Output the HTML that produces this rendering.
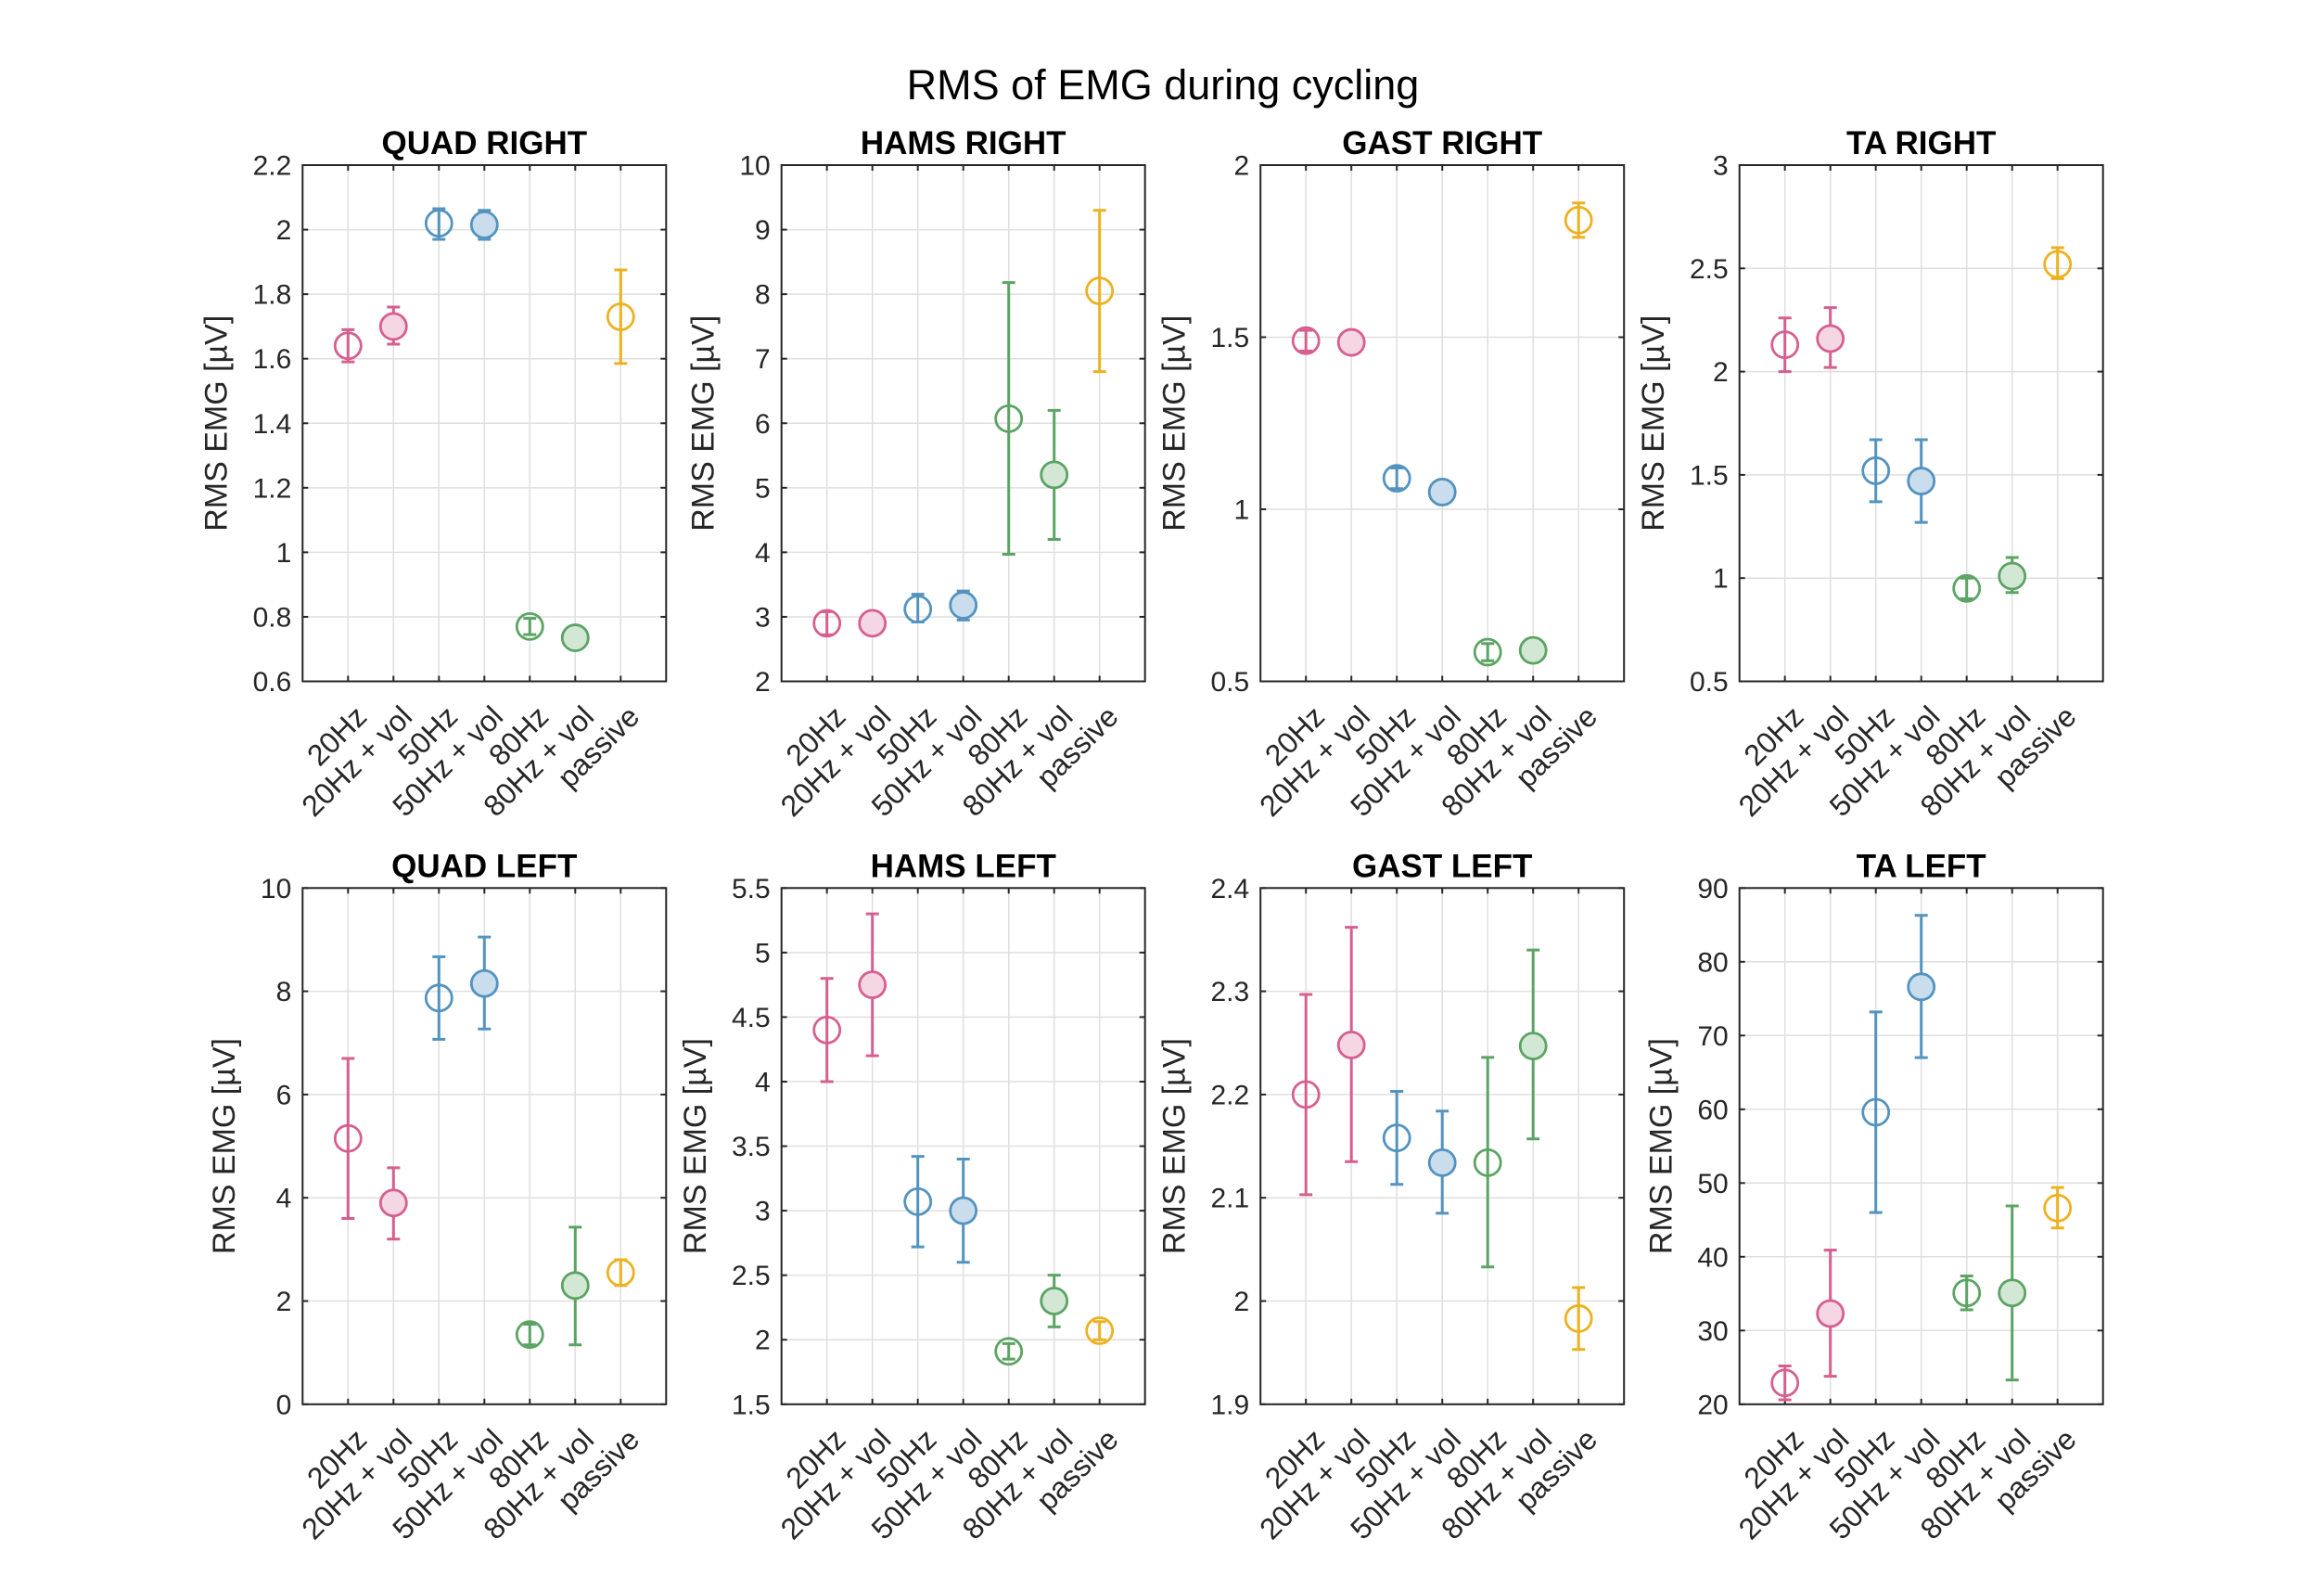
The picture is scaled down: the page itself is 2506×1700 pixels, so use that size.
<!DOCTYPE html>
<html><head><meta charset="utf-8"><style>
html,body{margin:0;padding:0;background:#fff;}
svg{display:block;font-family:"Liberation Sans",Arial,sans-serif;}
</style></head><body>
<svg id="fig" width="2506" height="1700" viewBox="0 0 2506 1700" xmlns="http://www.w3.org/2000/svg">
<rect width="2506" height="1700" fill="#fff"/>
<text x="1254" y="107" font-size="45" text-anchor="middle" fill="#000">RMS of EMG during cycling</text>
</svg>
<script>
const categories = ["20Hz","20Hz + vol","50Hz","50Hz + vol","80Hz","80Hz + vol","passive"];
const filledFlags = [false,true,false,true,false,true,false];
const groupColor = [0,0,1,1,2,2,3];

const quadRightMean = [1.64,1.70,2.02,2.015,0.77,0.735,1.73];
const quadRightLo   = [1.59,1.645,1.97,1.97,0.745,0.71,1.585];
const quadRightHi   = [1.69,1.76,2.065,2.06,0.795,0.76,1.875];
const quadRightTicks = [0.6,0.8,1,1.2,1.4,1.6,1.8,2,2.2];

const hamsRightMean = [2.9,2.9,3.12,3.18,6.07,5.2,8.05];
const hamsRightLo   = [2.72,2.77,2.92,2.95,3.97,4.2,6.8];
const hamsRightHi   = [3.08,3.03,3.35,3.4,8.18,6.2,9.3];
const hamsRightTicks = [2,3,4,5,6,7,8,9,10];

const gastRightMean = [1.49,1.485,1.09,1.05,0.585,0.59,1.84];
const gastRightLo   = [1.46,1.46,1.06,1.03,0.56,0.57,1.79];
const gastRightHi   = [1.52,1.51,1.12,1.07,0.61,0.61,1.89];
const gastRightTicks = [0.5,1,1.5,2];

const taRightMean = [2.13,2.16,1.52,1.47,0.95,1.01,2.52];
const taRightLo   = [2.0,2.02,1.37,1.27,0.9,0.93,2.45];
const taRightHi   = [2.26,2.31,1.67,1.67,1.0,1.1,2.6];
const taRightTicks = [0.5,1,1.5,2,2.5,3];

const quadLeftMean = [5.15,3.9,7.87,8.15,1.35,2.3,2.55];
const quadLeftLo   = [3.6,3.2,7.07,7.27,1.15,1.15,2.3];
const quadLeftHi   = [6.7,4.58,8.67,9.05,1.55,3.43,2.8];
const quadLeftTicks = [0,2,4,6,8,10];

const hamsLeftMean = [4.4,4.75,3.07,3.0,1.91,2.3,2.07];
const hamsLeftLo   = [4.0,4.2,2.72,2.6,1.85,2.1,2.0];
const hamsLeftHi   = [4.8,5.3,3.42,3.4,1.97,2.5,2.14];
const hamsLeftTicks = [1.5,2,2.5,3,3.5,4,4.5,5,5.5];

const gastLeftMean = [2.2,2.248,2.158,2.134,2.134,2.247,1.983];
const gastLeftLo   = [2.103,2.135,2.113,2.085,2.033,2.157,1.953];
const gastLeftHi   = [2.297,2.362,2.203,2.184,2.236,2.34,2.013];
const gastLeftTicks = [1.9,2,2.1,2.2,2.3,2.4];

const taLeftMean = [22.9,32.3,59.6,76.6,35.1,35.1,46.6];
const taLeftLo   = [20.6,23.8,46.0,67.0,32.8,23.3,43.9];
const taLeftHi   = [25.2,40.9,73.2,86.3,37.4,46.9,49.4];
const taLeftTicks = [20,30,40,50,60,70,80,90];

const panelTitles = ["QUAD RIGHT","HAMS RIGHT","GAST RIGHT","TA RIGHT","QUAD LEFT","HAMS LEFT","GAST LEFT","TA LEFT"];

const panels = [
 {m:quadRightMean,lo:quadRightLo,hi:quadRightHi,t:quadRightTicks},
 {m:hamsRightMean,lo:hamsRightLo,hi:hamsRightHi,t:hamsRightTicks},
 {m:gastRightMean,lo:gastRightLo,hi:gastRightHi,t:gastRightTicks},
 {m:taRightMean,lo:taRightLo,hi:taRightHi,t:taRightTicks},
 {m:quadLeftMean,lo:quadLeftLo,hi:quadLeftHi,t:quadLeftTicks},
 {m:hamsLeftMean,lo:hamsLeftLo,hi:hamsLeftHi,t:hamsLeftTicks},
 {m:gastLeftMean,lo:gastLeftLo,hi:gastLeftHi,t:gastLeftTicks},
 {m:taLeftMean,lo:taLeftLo,hi:taLeftHi,t:taLeftTicks}
];

const strokeCols = ["#d65f8f","#5393c0","#5ba463","#edb120"];
const fillCols = ["#f5d6e3","#c9ddec","#d3e7d5","#fbeccb"];
const NS = "http://www.w3.org/2000/svg";
const svg = document.getElementById("fig");
const lefts = [326.3,842.7,1359.2,1875.7];
const tops = [178,957.3];
const W = 392, H = 556.5;

function mk(tag, attrs, parent){
  const e = document.createElementNS(NS, tag);
  for (const k in attrs) e.setAttribute(k, attrs[k]);
  (parent||svg).appendChild(e);
  return e;
}
function fmt(v){ return String(Math.round(v*1000)/1000); }
function textW(s, fs){
  let w=0; for (const c of s) w += (c==='.')?0.278:0.556; return w*fs;
}

panels.forEach((p, idx)=>{
  const L = lefts[idx%4], T = tops[Math.floor(idx/4)], B = T+H, R = L+W;
  const ymin = p.t[0], ymax = p.t[p.t.length-1];
  const xs = i => L + (i+1)*W/8;
  const ys = v => B - (v-ymin)/(ymax-ymin)*H;
  const g = mk("g", {});
  
  
  for (let i=0;i<7;i++){
    const gl = mk("line",{x1:xs(i),x2:xs(i),y1:T,y2:B,stroke:"#dfdfdf","stroke-width":1.5},g);
    
    
  }
  p.t.forEach(v=>{
    const gl = mk("line",{x1:L,x2:R,y1:ys(v),y2:ys(v),stroke:"#dfdfdf","stroke-width":1.5},g);
    
    
  });
  for (let i=0;i<7;i++){
    const x=xs(i);
    const tk = mk("line",{x1:x,x2:x,y1:B,y2:B-6,stroke:"#262626","stroke-width":2},g);
    
    
    const tk2 = mk("line",{x1:x,x2:x,y1:T,y2:T+6,stroke:"#262626","stroke-width":2},g);
    
    
    const lx = x+22, ly = B+40;
    const tl = mk("text",{x:lx,y:ly,"font-size":32,"text-anchor":"end",fill:"#262626",transform:`rotate(-45 ${lx} ${ly})`},g);
    tl.textContent = categories[i];
    
    
  }
  let maxW = 0;
  p.t.forEach(v=>{
    const y=ys(v);
    const tk = mk("line",{x1:L,x2:L+6,y1:y,y2:y,stroke:"#262626","stroke-width":2},g);
    
    
    const tk2 = mk("line",{x1:R,x2:R-6,y1:y,y2:y,stroke:"#262626","stroke-width":2},g);
    
    
    const s = fmt(v);
    maxW = Math.max(maxW, textW(s,30));
    const tl = mk("text",{x:L-12,y:y+10.5,"font-size":30,"text-anchor":"end",fill:"#262626"},g);
    tl.textContent = s;
    
    
  });
  const bx = mk("rect",{x:L,y:T,width:W,height:H,fill:"none",stroke:"#262626","stroke-width":2},g);
  
  
  const tt = mk("text",{x:L+W/2,y:T-12,"font-size":35,"font-weight":"bold","text-anchor":"middle",fill:"#000"},g);
  tt.textContent = panelTitles[idx];
  
  
  const yx = L - 12 - maxW - 28, yy = T+H/2;
  const yl = mk("text",{x:yx,y:yy,"font-size":34,"text-anchor":"middle",fill:"#262626",transform:`rotate(-90 ${yx} ${yy})`},g);
  yl.textContent = "RMS EMG [µV]";
  
  
  for (let i=0;i<7;i++){
    const c = strokeCols[groupColor[i]];
    const x = xs(i), y1 = ys(p.lo[i]), y2 = ys(p.hi[i]), ym = ys(p.m[i]);
    const eb = mk("path",{d:`M${x},${y1}V${y2}M${x-7},${y1}H${x+7}M${x-7},${y2}H${x+7}`,stroke:c,"stroke-width":3,fill:"none"},g);
    
    
    const mkk = mk("circle",{cx:x,cy:ym,r:14,stroke:c,"stroke-width":2.8,fill:filledFlags[i]?fillCols[groupColor[i]]:"none"},g);
    
    
  }
});
</script>
</body></html>
